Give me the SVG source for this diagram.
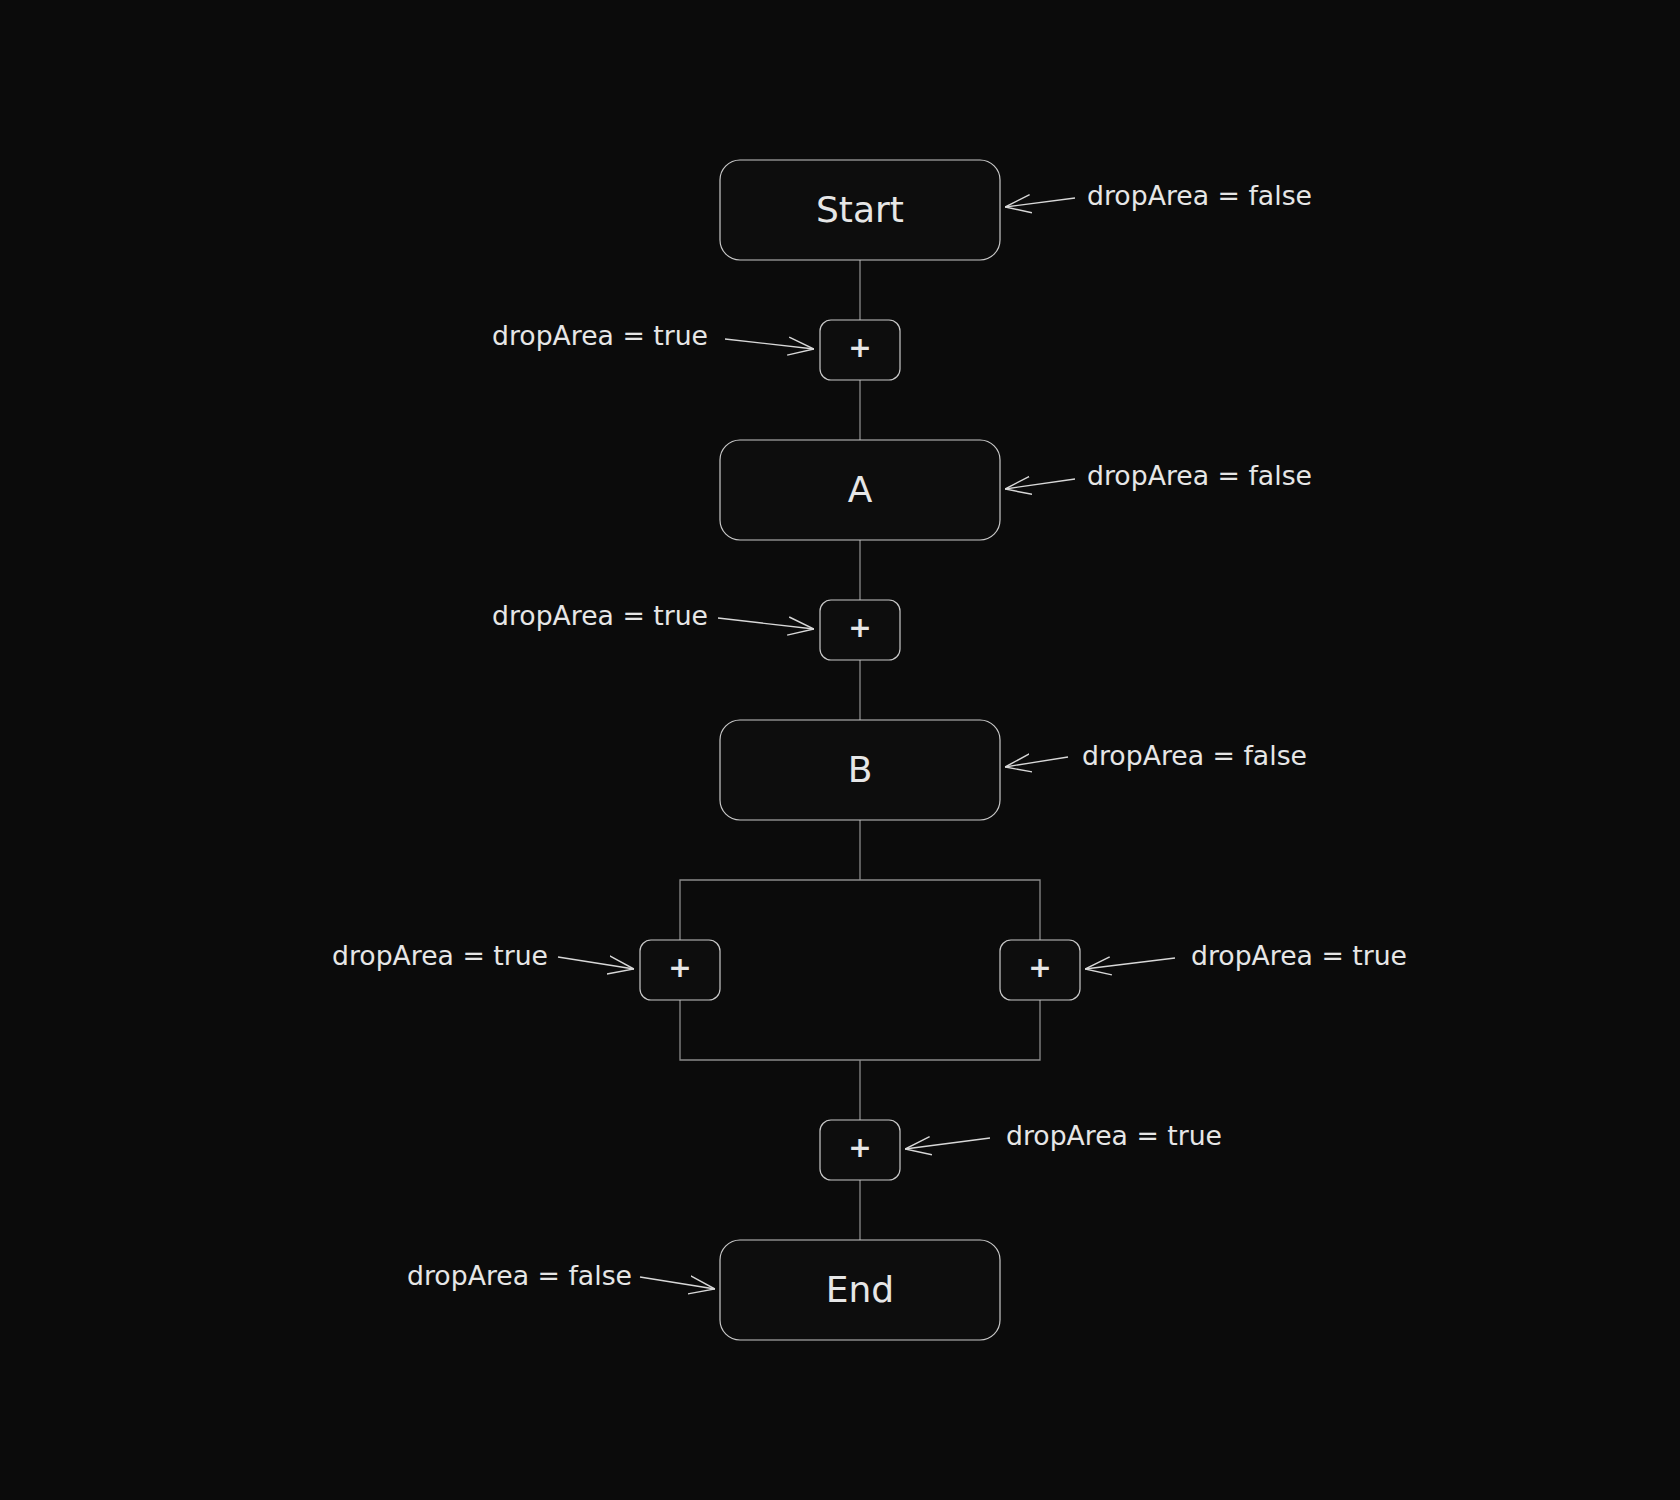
<svg xmlns="http://www.w3.org/2000/svg" width="1680" height="1500" viewBox="0 0 1680 1500">
<defs>
<style>
.node{fill:#0d0d0d;stroke:#c8c8c8;stroke-width:1.2}
.lbl{font-family:"DejaVu Sans","Liberation Sans",sans-serif;fill:#e6e6e6;text-anchor:middle}
.big{font-size:36px}
.plus{font-size:28px;font-weight:bold}
.note{font-family:"DejaVu Sans","Liberation Sans",sans-serif;fill:#e6e6e6;font-size:26px}
.wire{fill:none;stroke:#8a8a8a;stroke-width:1.3}
.arr{fill:none;stroke:#d8d8d8;stroke-width:1.3;marker-end:url(#chev)}
</style>
<marker id="chev" viewBox="0 0 20 20" refX="20" refY="10" markerWidth="26" markerHeight="26" markerUnits="userSpaceOnUse" orient="auto">
<path d="M0,3 L20,10 L0,17" fill="none" stroke="#d8d8d8" stroke-width="1.1"/>
</marker>
</defs>
<rect width="1680" height="1500" fill="#0b0b0b"/>
<g id="connectors">
<line class="wire" x1="860" y1="260" x2="860" y2="320"/>
<line class="wire" x1="860" y1="380" x2="860" y2="440"/>
<line class="wire" x1="860" y1="540" x2="860" y2="600"/>
<line class="wire" x1="860" y1="660" x2="860" y2="720"/>
<line class="wire" x1="860" y1="820" x2="860" y2="880"/>
<path class="wire" d="M680,940 L680,880 L1040,880 L1040,940"/>
<path class="wire" d="M680,1000 L680,1060 L1040,1060 L1040,1000"/>
<line class="wire" x1="860" y1="1060" x2="860" y2="1120"/>
<line class="wire" x1="860" y1="1180" x2="860" y2="1240"/>
<path class="arr" d="M1075,198 L1005,207"/>
<path class="arr" d="M725,339 L814,349"/>
<path class="arr" d="M1075,479 L1005,489"/>
<path class="arr" d="M718,618 L814,629"/>
<path class="arr" d="M1068,757 L1005,767"/>
<path class="arr" d="M558,957 L634,969"/>
<path class="arr" d="M1175,958 L1085,969"/>
<path class="arr" d="M990,1138 L905,1149"/>
<path class="arr" d="M640,1277 L715,1289"/>
</g>
<g id="start"><rect class="node" x="720" y="160" width="280" height="100" rx="20"/><text class="lbl big" x="860" y="222">Start</text></g>
<g id="plus1"><rect class="node" x="820" y="320" width="80" height="60" rx="11"/><text class="lbl plus" x="860" y="357">+</text></g>
<g id="nodeA"><rect class="node" x="720" y="440" width="280" height="100" rx="20"/><text class="lbl big" x="860" y="502">A</text></g>
<g id="plus2"><rect class="node" x="820" y="600" width="80" height="60" rx="11"/><text class="lbl plus" x="860" y="637">+</text></g>
<g id="nodeB"><rect class="node" x="720" y="720" width="280" height="100" rx="20"/><text class="lbl big" x="860" y="782">B</text></g>
<g id="plusL"><rect class="node" x="640" y="940" width="80" height="60" rx="11"/><text class="lbl plus" x="680" y="977">+</text></g>
<g id="plusR"><rect class="node" x="1000" y="940" width="80" height="60" rx="11"/><text class="lbl plus" x="1040" y="977">+</text></g>
<g id="plus3"><rect class="node" x="820" y="1120" width="80" height="60" rx="11"/><text class="lbl plus" x="860" y="1157">+</text></g>
<g id="end"><rect class="node" x="720" y="1240" width="280" height="100" rx="20"/><text class="lbl big" x="860" y="1302">End</text></g>
<g id="notes">
<text class="note" x="1087" y="205" textLength="225" lengthAdjust="spacingAndGlyphs">dropArea = false</text>
<text class="note" x="492" y="345" textLength="216" lengthAdjust="spacingAndGlyphs">dropArea = true</text>
<text class="note" x="1087" y="485" textLength="225" lengthAdjust="spacingAndGlyphs">dropArea = false</text>
<text class="note" x="492" y="625" textLength="216" lengthAdjust="spacingAndGlyphs">dropArea = true</text>
<text class="note" x="1082" y="765" textLength="225" lengthAdjust="spacingAndGlyphs">dropArea = false</text>
<text class="note" x="332" y="965" textLength="216" lengthAdjust="spacingAndGlyphs">dropArea = true</text>
<text class="note" x="1191" y="965" textLength="216" lengthAdjust="spacingAndGlyphs">dropArea = true</text>
<text class="note" x="1006" y="1145" textLength="216" lengthAdjust="spacingAndGlyphs">dropArea = true</text>
<text class="note" x="407" y="1285" textLength="225" lengthAdjust="spacingAndGlyphs">dropArea = false</text>
</g>
</svg>
